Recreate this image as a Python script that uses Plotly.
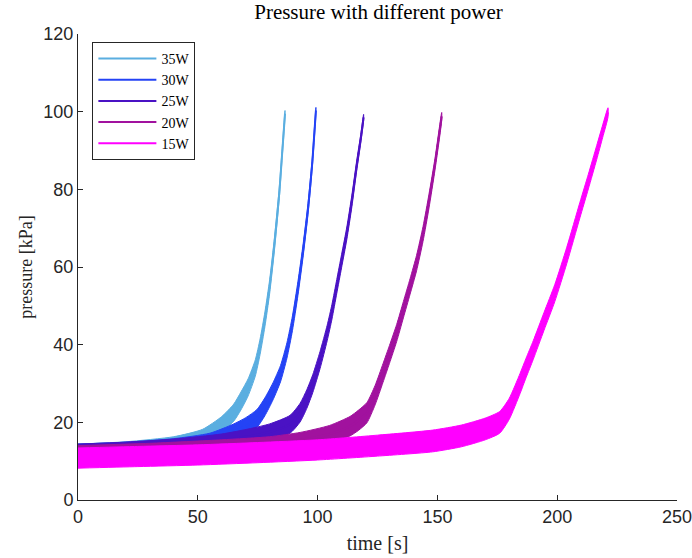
import plotly.graph_objects as go

# ---- data (time [s], pressure centre [kPa], noise half-width [kPa]) ----
names = ["35W", "30W", "25W", "20W", "15W"]
colors = ["#5aaee0", "#2443f5", "#4a12c4", "#a1129e", "#ff00ff"]

t_35 = [0, 20, 40, 52, 60, 65, 68, 71, 74, 76, 78, 80, 82, 84, 85, 86.4]
p_35 = [13.0, 13.6, 14.8, 16.5, 19.5, 22.5, 25.5, 29.0, 34.0, 39.5, 46.5, 55.0, 66.0, 79.0, 87.5, 99.5]
n_35 = [1.4, 1.4, 1.5, 1.7, 2.0, 2.2, 2.3, 2.2, 2.1, 2.0, 1.9, 1.8, 1.6, 1.4, 1.2, 0.8]

t_30 = [0, 20, 40, 55, 64.7, 70, 74.7, 78, 81.4, 84.5, 87.2, 89.5, 91.8, 94, 96, 97.8, 99.3]
p_30 = [13.0, 13.5, 14.3, 15.5, 17.5, 19.0, 21.0, 24.0, 28.0, 32.5, 38.5, 45.5, 54.5, 64.5, 75.0, 87.0, 100.3]
n_30 = [1.4, 1.4, 1.5, 1.7, 2.0, 2.2, 2.3, 2.3, 2.2, 2.1, 2.0, 1.9, 1.8, 1.6, 1.4, 1.2, 0.8]

t_25 = [0, 20, 40, 60, 72, 80, 88.5, 92.7, 95.5, 98, 101, 104, 106, 108, 110, 112.2, 114.3, 116.3, 118, 119.2]
p_25 = [13.0, 13.5, 14.2, 15.3, 16.5, 17.5, 19.5, 22.5, 26.0, 30.0, 36.0, 43.0, 48.5, 55.0, 61.5, 68.7, 77.0, 86.0, 93.0, 98.5]
n_25 = [1.4, 1.4, 1.5, 1.7, 1.9, 2.1, 2.3, 2.4, 2.4, 2.3, 2.2, 2.0, 1.9, 1.8, 1.7, 1.6, 1.5, 1.3, 1.1, 0.8]

t_20 = [0, 30, 60, 80, 92.7, 105, 113.5, 117, 120.6, 124, 127.3, 130, 133, 135.8, 138.6, 141.3, 144, 146.5, 149, 151.8]
p_20 = [12.5, 13.0, 13.8, 14.5, 15.5, 17.0, 19.0, 20.5, 22.5, 27.0, 32.7, 37.5, 43.0, 49.0, 55.0, 61.0, 68.5, 77.0, 86.5, 98.8]
n_20 = [1.5, 1.6, 1.7, 1.8, 1.9, 2.2, 2.5, 2.6, 2.6, 2.5, 2.4, 2.3, 2.2, 2.1, 2.0, 2.0, 1.9, 1.8, 1.5, 1.0]

t_15 = [0, 25, 50, 75, 100, 125, 148, 160, 170, 176, 180, 184.5, 187, 190, 194.5, 199, 204, 209.5, 213, 216.5, 219, 221.2]
p_15 = [10.8, 11.2, 11.6, 12.2, 12.9, 14.0, 15.2, 16.5, 18.3, 20.0, 23.5, 30.0, 34.0, 38.6, 46.0, 53.3, 63.0, 74.7, 82.0, 89.5, 95.0, 99.8]
n_15 = [2.6, 2.6, 2.6, 2.6, 2.6, 2.7, 2.8, 2.8, 2.8, 2.8, 2.7, 2.6, 2.5, 2.4, 2.3, 2.2, 2.1, 2.0, 1.9, 1.8, 1.6, 1.2]

x_ticks = [0, 50, 100, 150, 200, 250]
y_ticks = [0, 20, 40, 60, 80, 100, 120]

series = [(t_35, p_35, n_35), (t_30, p_30, n_30), (t_25, p_25, n_25),
          (t_20, p_20, n_20), (t_15, p_15, n_15)]

SERIF = "Liberation Serif, Times New Roman, serif"
SANS = "Liberation Sans, Arial, sans-serif"

fig = go.Figure()
for name, col, (t, p, n) in zip(names, colors, series):
    hi = [a + b for a, b in zip(p, n)]
    lo = [a - b for a, b in zip(p, n)]
    fig.add_trace(go.Scatter(
        x=list(t) + list(t)[::-1], y=hi + lo[::-1],
        fill="toself", fillcolor=col, mode="lines",
        line=dict(color=col, width=1, shape="spline", smoothing=0.6),
        hoverinfo="skip", showlegend=False))
    fig.add_trace(go.Scatter(
        x=t, y=p, mode="lines", name=name,
        line=dict(color=col, width=2, shape="spline", smoothing=0.6)))

fig.update_layout(
    width=692, height=558,
    margin=dict(l=78, r=15, t=34, b=58, autoexpand=False),
    paper_bgcolor="white", plot_bgcolor="white",
    title=dict(text="Pressure with different power", x=0.547, xanchor="center",
               y=0.98, yanchor="middle", yref="container",
               font=dict(family=SERIF, size=21, color="#000000")),
    legend=dict(x=0.024, y=0.983, xanchor="left", yanchor="top",
                bgcolor="white", bordercolor="#262626", borderwidth=1,
                font=dict(family=SERIF, size=14, color="#000000"),
                tracegroupgap=0, itemwidth=58),
    showlegend=True,
)
fig.update_xaxes(
    range=[0, 250], tickvals=x_ticks, ticks="inside", ticklen=5,
    tickcolor="#262626", showline=True, linecolor="#262626", linewidth=1,
    showgrid=False, zeroline=False, mirror=False, ticklabeloverflow="allow",
    automargin=False,
    tickfont=dict(family=SANS, size=18, color="#262626"),
    title=dict(text="time [s]", font=dict(family=SERIF, size=20, color="#262626"), standoff=10),
)
fig.update_yaxes(
    range=[0, 120], tickvals=y_ticks, ticks="inside", ticklen=5,
    tickcolor="#262626", showline=True, linecolor="#262626", linewidth=1,
    showgrid=False, zeroline=False, mirror=False, ticklabeloverflow="allow",
    automargin=False,
    tickfont=dict(family=SANS, size=18, color="#262626"),
    title=dict(text="pressure [kPa]", font=dict(family=SERIF, size=18, color="#262626"), standoff=6),
)

fig.write_html("out.html")
